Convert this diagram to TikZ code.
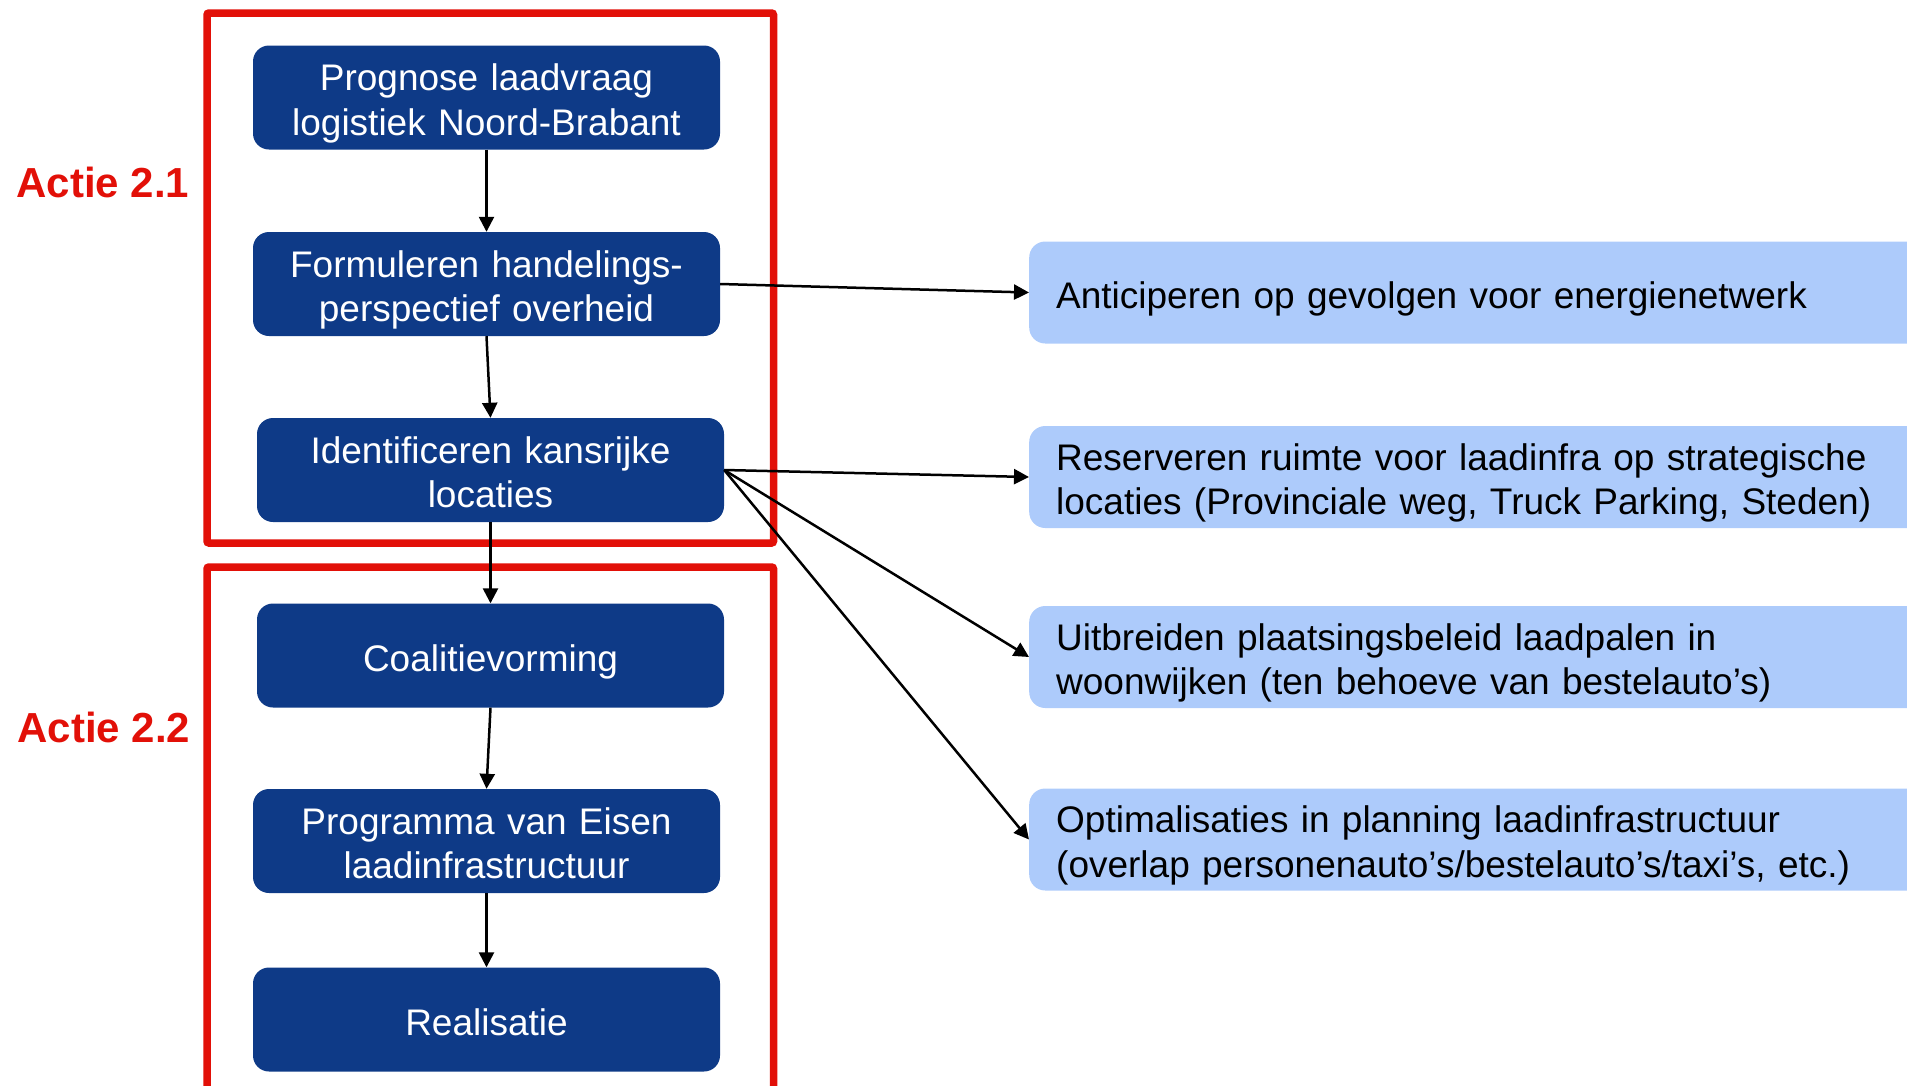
\documentclass[tikz,border=0pt]{standalone}
\usepackage{fontspec}
\setmainfont{Liberation Sans}
\usepackage{tikz}
\usetikzlibrary{arrows.meta}
\definecolor{stapblauw}{RGB}{14,58,135}
\definecolor{lichtblauw}{RGB}{173,203,251}
\definecolor{actierood}{RGB}{226,16,8}

\begin{document}
\begin{tikzpicture}[x=1pt,y=-1pt,
	stap/.style={fill=stapblauw, text=white, rounded corners=16pt, minimum width=467pt, minimum height=104pt, text width=440pt, align=center, font=\fontsize{37}{44.5}\selectfont, execute at begin node=\rule{0pt}{39pt}, execute at end node=\rule[-8pt]{0pt}{8pt}},
	gevolg/.style={fill=lichtblauw, text=black, rounded corners=16pt, anchor=west, minimum height=102pt, inner xsep=27pt, text width=900pt, align=left, font=\fontsize{37}{44.5}\selectfont, execute at begin node=\rule{0pt}{39pt}, execute at end node=\rule[-8pt]{0pt}{8pt}},
	kader/.style={draw=actierood, line width=7.5pt, rounded corners=2pt},
	actie/.style={text=actierood, font=\fontsize{42}{49}\selectfont\bfseries},
	pijl/.style={-{Triangle[length=15pt,width=15pt]}, line width=2.5pt}]
			\useasboundingbox (0,0) rectangle (1907,1085);
			\draw[kader] (207,13) rectangle (773.5,543);
			\draw[kader] (207,567) rectangle (773.5,1110);
			\node[actie] (a21) at (103,182) {Actie 2.1};
			\node[actie] (a22) at (104,727) {Actie 2.2};
			\node[stap] (prognose) at (486.5,97.5) {Prognose laadvraag\\logistiek Noord-Brabant};
			\node[stap] (formuleren) at (486.5,284) {Formuleren handelings-\\perspectief overheid};
			\node[stap] (identificeren) at (490.5,470) {Identificeren kansrijke\\locaties};
			\node[stap] (coalitie) at (490.5,655.5) {Coalitievorming};
			\node[stap] (programma) at (486.5,841) {Programma van Eisen\\laadinfrastructuur};
			\node[stap] (realisatie) at (486.5,1019.5) {Realisatie};
			\node[gevolg] (anticiperen) at (1029,292.5) {Anticiperen op gevolgen voor energienetwerk};
			\node[gevolg] (reserveren) at (1029,477) {Reserveren ruimte voor laadinfra op strategische\\locaties (Provinciale weg, Truck Parking, Steden)};
			\node[gevolg] (uitbreiden) at (1029,657) {Uitbreiden plaatsingsbeleid laadpalen in\\woonwijken (ten behoeve van bestelauto’s)};
			\node[gevolg] (optimalisaties) at (1029,839.5) {Optimalisaties in planning laadinfrastructuur\\(overlap personenauto’s/bestelauto’s/taxi’s, etc.)};
			\draw[pijl] (prognose) -- (formuleren);
			\draw[pijl] (formuleren.south) -- (identificeren.north);
			\draw[pijl] (identificeren) -- (coalitie);
			\draw[pijl] (coalitie.south) -- (programma.north);
			\draw[pijl] (programma) -- (realisatie);
			\draw[pijl] (formuleren.east) -- (anticiperen.west);
			\draw[pijl] (identificeren.east) -- (reserveren.west);
			\draw[pijl] (identificeren.east) -- (uitbreiden.west);
			\draw[pijl] (identificeren.east) -- (optimalisaties.west);
		\end{tikzpicture}
\end{document}
